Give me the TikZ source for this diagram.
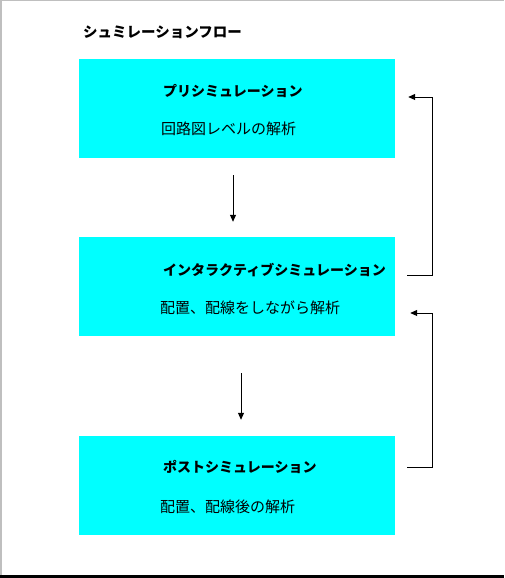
\documentclass[tikz,border=0pt]{standalone}
\usepackage{fontspec}
\setmainfont{Noto Sans CJK JP}
\usetikzlibrary{arrows.meta}
\definecolor{boxcyan}{HTML}{00FFFF}
\tikzset{
  box/.style={fill=boxcyan, draw=none, minimum width=316pt, minimum height=99pt, inner sep=0pt},
  ttl/.style={anchor=west, inner sep=0pt, font=\fontsize{14pt}{16pt}\selectfont\bfseries},
  sub/.style={anchor=west, inner sep=0pt, font=\fontsize{15pt}{17pt}\selectfont},
  flow/.style={line width=0.9pt, -{Triangle[length=7pt,width=6pt]}},
}
\begin{document}
\begin{tikzpicture}[x=1pt,y=1pt]
\useasboundingbox (0,0) rectangle (504,578);
\fill[white] (0,0) rectangle (504,578);
\draw[gray!50, line width=1.5pt] (0.75,0) -- (0.75,578);
\draw[gray!50, line width=1.5pt] (0,577.25) -- (504,577.25);
\fill[black] (0,0) rectangle (504,2.5);
\node[anchor=west, inner sep=0pt, font=\fontsize{14.5pt}{16pt}\selectfont\bfseries] (title) at (83,546) {シュミレーションフロー};
\node[box] (b1) at (237,469.5) {};
\node[box] (b2) at (237,291.5) {};
\node[box] (b3) at (237,92.5) {};
\node[ttl] (t1) at (163,487) {プリシミュレーション};
\node[sub] (s1) at (161,449) {回路図レベルの解析};
\node[ttl] (t2) at (163,308) {インタラクティブシミュレーション};
\node[sub] (s2) at (160,270) {配置、配線をしながら解析};
\node[ttl] (t3) at (163,111) {ポストシミュレーション};
\node[sub] (s3) at (160,71) {配置、配線後の解析};
\draw[flow] ([xshift=-4pt,yshift=-17pt]b1.south) -- ([xshift=-4pt,yshift=15pt]b2.north);
\draw[flow] ([xshift=4pt,yshift=-37pt]b2.south) -- ([xshift=4pt,yshift=16pt]b3.north);
\coordinate (u1) at ([xshift=12pt,yshift=11.5pt]b2.east);
\coordinate (u2) at ([xshift=13pt,yshift=11.5pt]b1.east);
\draw[flow] (u1) -- ++(25,0) |- (u2);
\coordinate (l1) at ([xshift=12pt,yshift=18.5pt]b3.east);
\coordinate (l2) at ([xshift=15pt,yshift=-26.5pt]b2.east);
\draw[flow] (l1) -- ++(25,0) |- (l2);
\end{tikzpicture}
\end{document}
